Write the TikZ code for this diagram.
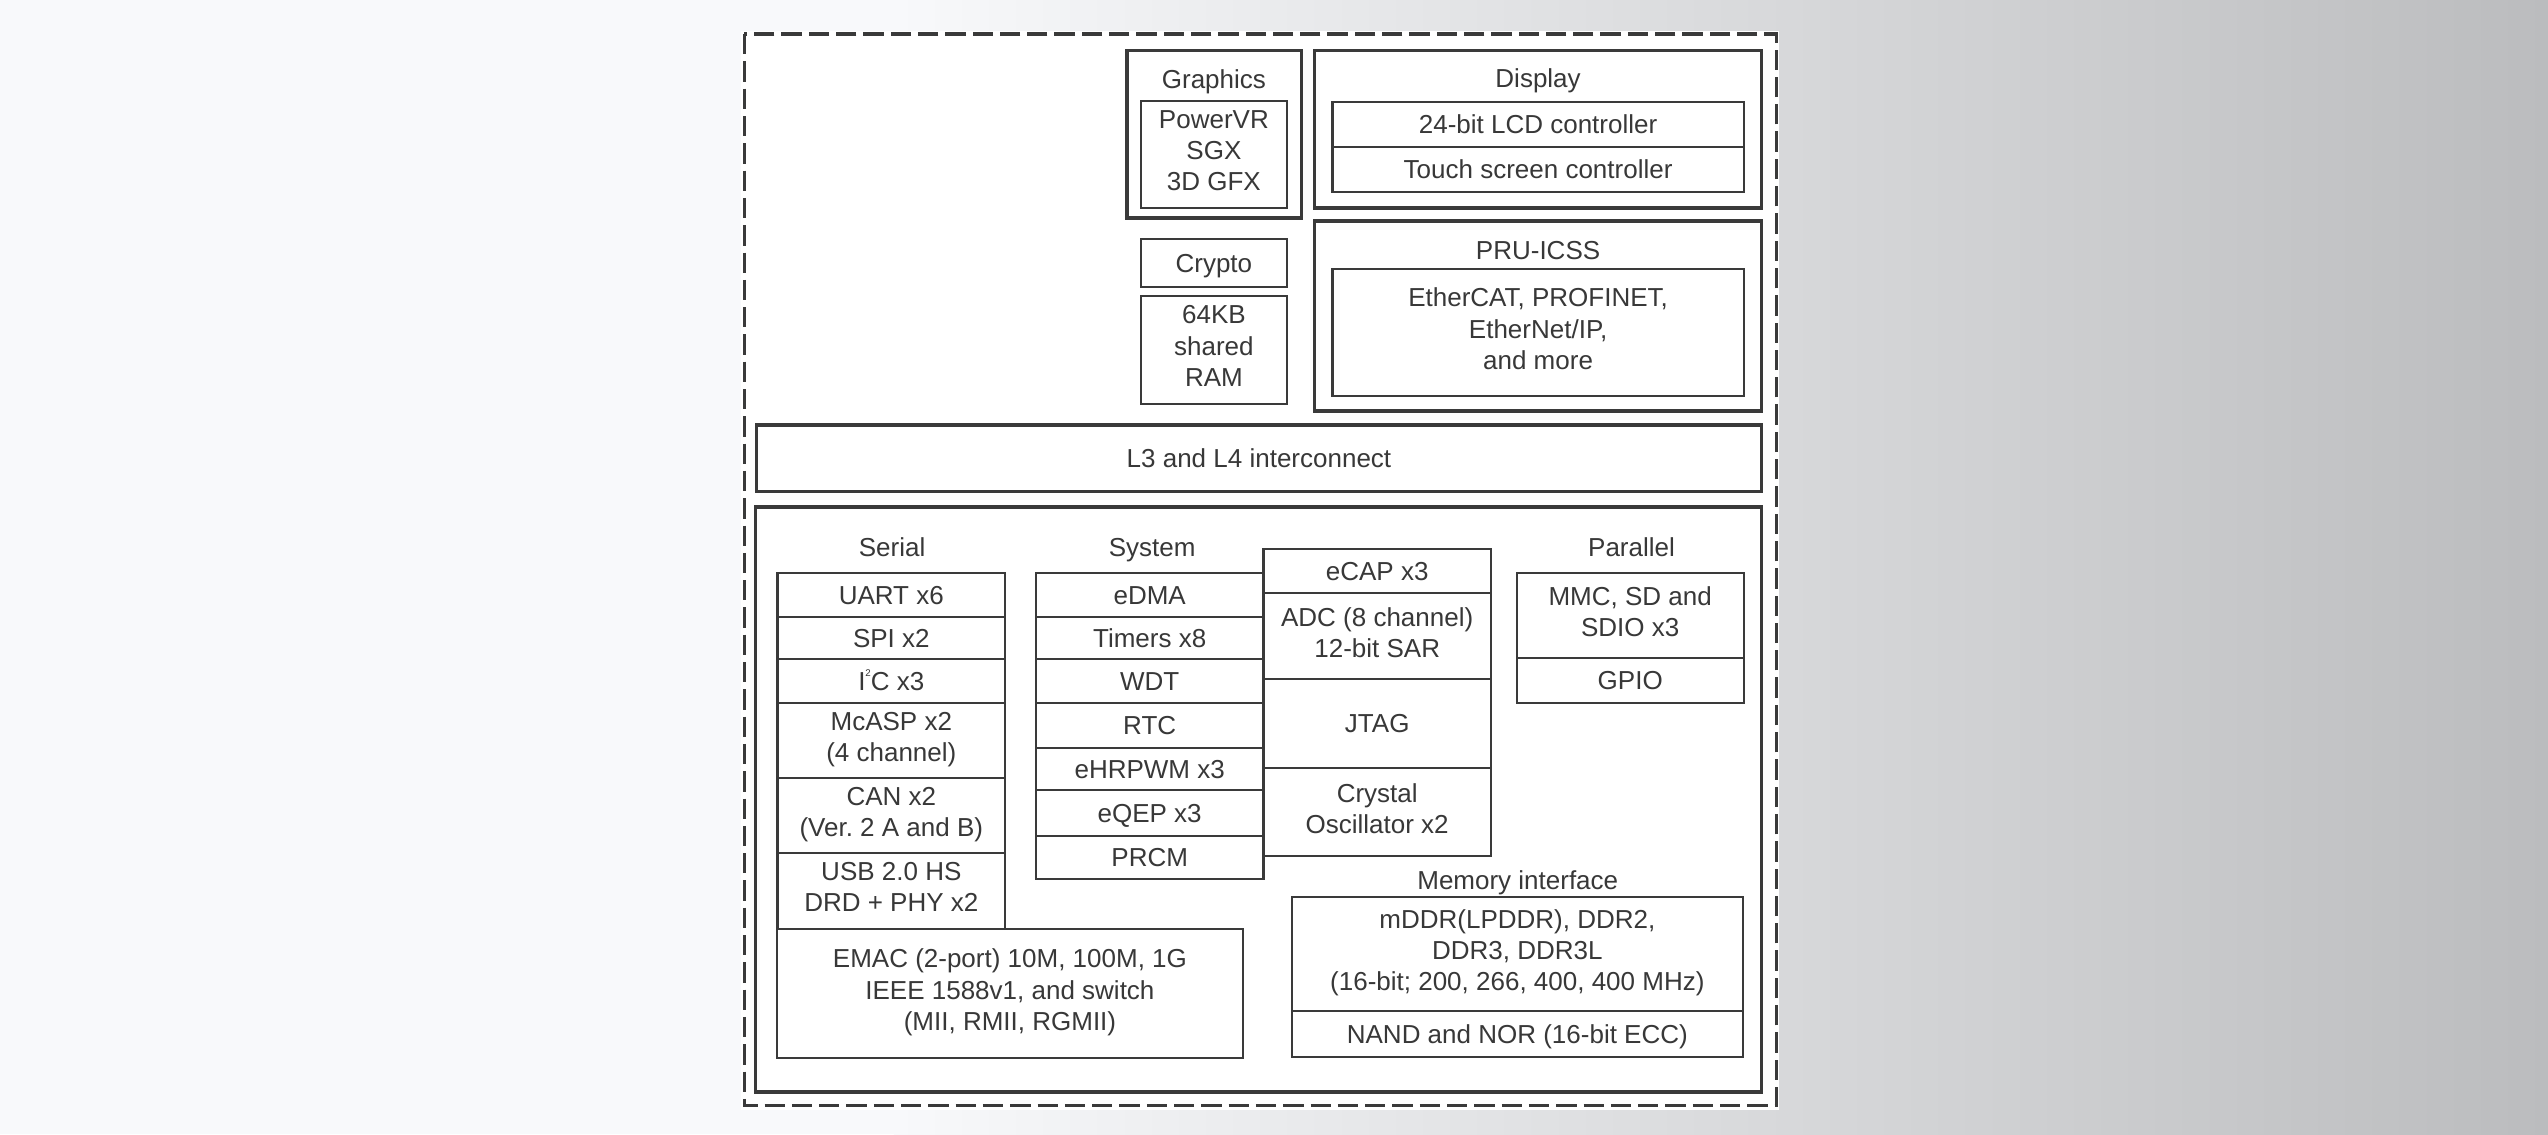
\documentclass[tikz,border=0pt]{standalone}
\usepackage{fontspec}
\setmainfont{Liberation Sans}
\definecolor{linec}{HTML}{3A3A3A}
\definecolor{textc}{HTML}{383838}
\definecolor{bgl}{HTML}{F8F9FB}
\definecolor{bgm}{HTML}{E6E7E9}
\definecolor{bgr}{HTML}{BBBCBE}
\newcommand\mystrut{\rule[-0.3em]{0pt}{1.3em}}
% style, name, x1, x2, y1, y2, text
\newcommand\blk[7]{%
  \node[#1, minimum width={(#4)-(#3)}, minimum height={(#6)-(#5)}] (#2)
    at ({((#3)+(#4))/2},{((#5)+(#6))/2}) {#7};}
\begin{document}
\begin{tikzpicture}[x=1pt,y=-1pt,
  every node/.style={font=\fontsize{16}{19.2}\selectfont\frenchspacing, text=textc, align=center,
    execute at begin node=\mystrut, execute at end node=\mystrut},
  thickbox/.style={draw=linec, line width=2.2pt, rectangle, inner sep=0pt, fill=white},
  thinbox/.style={draw=linec, line width=1.4pt, rectangle, inner sep=0pt, fill=white},
  grouplabel/.style={inner sep=0pt}]
\useasboundingbox (0,0) rectangle (1568,698);
\fill[bgl] (0,0) rectangle (1568,698);
\shade[left color=bgl, middle color=bgm, right color=bgr] (550,0) rectangle (1568,698);
\fill[white] (456,19) rectangle (1095,683);
\draw[linec, line width=2pt, dash pattern=on 12.5pt off 4.3pt] (458,21) rectangle (1093,680.5);

% top groups
\blk{thickbox}{graphics}{693.5}{801}{31}{134}{}
\blk{thickbox}{display}{809}{1084}{31}{128}{}
\blk{thickbox}{pru}{809}{1084}{136}{253}{}
\blk{thickbox}{l3}{465.5}{1084}{261.5}{302.5}{L3 and L4 interconnect}
\blk{thickbox}{periph}{465}{1084}{312}{672}{}

\node[grouplabel] (graphicslbl) at (747,49) {Graphics};
\node[grouplabel] (displaylbl) at (946.5,48) {Display};
\node[grouplabel] (prulbl) at (946.5,154.3) {PRU-ICSS};
\node[grouplabel] (seriallbl) at (549,337) {Serial};
\node[grouplabel] (systemlbl) at (709,337) {System};
\node[grouplabel] (parallellbl) at (1004,337) {Parallel};
\node[grouplabel] (memlbl) at (934,541.5) {Memory interface};

\blk{thinbox}{powervr}{702}{792}{62}{128}{PowerVR\\SGX\\3D GFX}
\blk{thinbox}{lcd}{820}{1073}{62.6}{90.3}{24-bit LCD controller}
\blk{thinbox}{touch}{820}{1073}{90.3}{118}{Touch screen controller}
\blk{thinbox}{crypto}{702}{792}{147}{176.6}{Crypto}
\blk{thinbox}{ram}{702}{792}{182}{248.6}{64KB\\shared\\RAM}
\blk{thinbox}{pruin}{820}{1073}{165.6}{243.7}{EtherCAT, PROFINET,\\EtherNet/IP,\\and more}

% serial
\blk{thinbox}{uart}{478.5}{618.5}{352.8}{379.6}{UART x6}
\blk{thinbox}{spi}{478.5}{618.5}{379.6}{405.7}{SPI x2}
\blk{thinbox}{itwoc}{478.5}{618.5}{405.7}{432.8}{I\raisebox{0.52em}{\fontsize{6}{6}\selectfont 2}C x3}
\blk{thinbox}{mcasp}{478.5}{618.5}{432.8}{478.9}{McASP x2\\(4 channel)}
\blk{thinbox}{can}{478.5}{618.5}{478.9}{525}{CAN x2\\(Ver. 2 A and B)}
\blk{thinbox}{usb}{478.5}{618.5}{525}{571.8}{USB 2.0 HS\\DRD + PHY x2}
\blk{thinbox}{emac}{478}{765}{571.8}{651}{EMAC (2-port) 10M, 100M, 1G\\IEEE 1588v1, and switch\\(MII, RMII, RGMII)}

% system
\blk{thinbox}{edma}{637.5}{777.5}{352.8}{379.6}{eDMA}
\blk{thinbox}{timers}{637.5}{777.5}{379.6}{405.7}{Timers x8}
\blk{thinbox}{wdt}{637.5}{777.5}{405.7}{432.8}{WDT}
\blk{thinbox}{rtc}{637.5}{777.5}{432.8}{460.5}{RTC}
\blk{thinbox}{ehrpwm}{637.5}{777.5}{460.5}{486}{eHRPWM x3}
\blk{thinbox}{eqep}{637.5}{777.5}{486}{514.5}{eQEP x3}
\blk{thinbox}{prcm}{637.5}{777.5}{514.5}{541}{PRCM}

\blk{thinbox}{ecap}{777.5}{917.5}{338}{365}{eCAP x3}
\blk{thinbox}{adc}{777.5}{917.5}{365}{418}{ADC (8 channel)\\12-bit SAR}
\blk{thinbox}{jtag}{777.5}{917.5}{418}{472.7}{JTAG}
\blk{thinbox}{crystal}{777.5}{917.5}{472.7}{526.8}{Crystal\\Oscillator x2}

% parallel
\blk{thinbox}{mmc}{933.4}{1073}{352.8}{405}{MMC, SD and\\SDIO x3}
\blk{thinbox}{gpio}{933.4}{1073}{405}{432.8}{GPIO}

% memory
\blk{thinbox}{mddr}{795}{1072.5}{552}{622}{mDDR(LPDDR), DDR2,\\DDR3, DDR3L\\(16-bit; 200, 266, 400, 400 MHz)}
\blk{thinbox}{nand}{795}{1072.5}{622}{650.5}{NAND and NOR (16-bit ECC)}
\end{tikzpicture}
\end{document}
